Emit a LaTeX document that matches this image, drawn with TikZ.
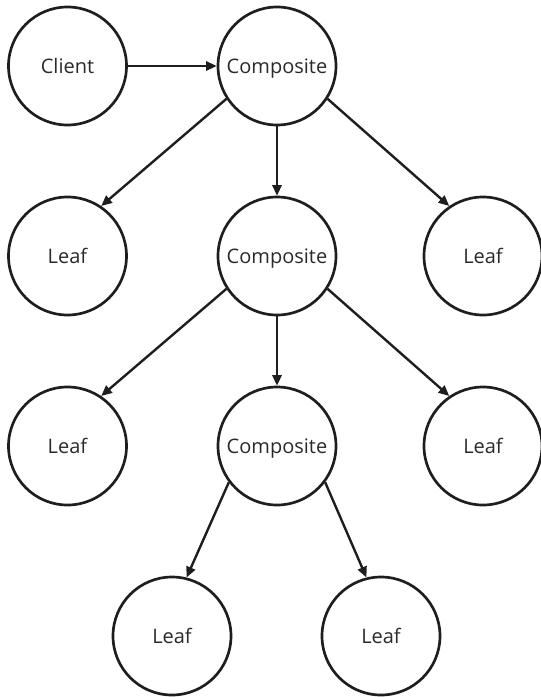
\documentclass[tikz,border=0pt]{standalone}
\usepackage{fontspec}
\setmainfont{Open Sans}
\usetikzlibrary{arrows.meta}
\definecolor{ink}{HTML}{1E1E1E}
\definecolor{txt}{HTML}{2A2A2A}
\begin{document}
\begin{tikzpicture}[x=0.75pt,y=-0.75pt,
  nodecirc/.style={circle,draw=ink,line width=2pt,minimum size=118*0.75pt,inner sep=0pt,
    font=\fontsize{15pt}{18pt}\selectfont,text=txt,text height=10.7pt,text depth=0pt},
  link/.style={draw=ink,line width=1.8pt,-{Triangle[length=8pt,width=7pt]}}]
\useasboundingbox (0,0) rectangle (541,697);
\node[nodecirc] (client) at (67.5,66) {Client};
\node[nodecirc] (c1) at (277,66) {Composite};
\node[nodecirc] (l1) at (67.5,256) {Leaf};
\node[nodecirc] (c2) at (277,256) {Composite};
\node[nodecirc] (r1) at (483,256) {Leaf};
\node[nodecirc] (l2) at (67.5,446) {Leaf};
\node[nodecirc] (c3) at (277,446) {Composite};
\node[nodecirc] (r2) at (483,446) {Leaf};
\node[nodecirc] (b1) at (172,636) {Leaf};
\node[nodecirc] (b2) at (381,636) {Leaf};
\draw[link] (client.east) -- (c1.west);
\draw[link] (c1.213) -- (l1.56);
\draw[link] (c1.south) -- (c2.north);
\draw[link] (c1.327) -- (r1.124);
\draw[link] (c2.213) -- (l2.56);
\draw[link] (c2.south) -- (c3.north);
\draw[link] (c2.327) -- (r2.124);
\draw[link] (c3.217) -- (b1.76);
\draw[link] (c3.323) -- (b2.104);
\end{tikzpicture}
\end{document}
